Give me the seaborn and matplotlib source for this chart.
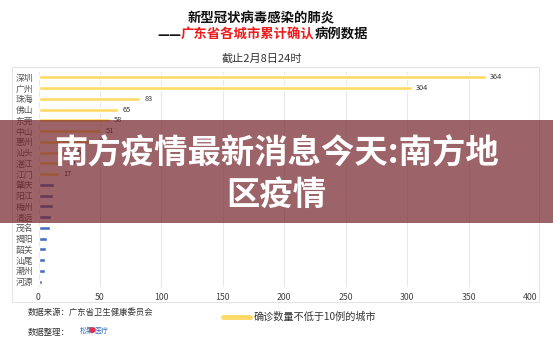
import matplotlib
matplotlib.use("Agg")
import matplotlib.pyplot as plt
from matplotlib.patches import Rectangle
import seaborn as sns
import pandas as pd

cities = ["深圳", "广州", "珠海", "佛山", "东莞", "中山", "惠州", "汕头", "湛江", "江门",
          "肇庆", "阳江", "梅州", "清远", "茂名", "揭阳", "韶关", "汕尾", "潮州", "河源"]
cases = [364, 304, 83, 65, 58, 51, 45, 25, 20, 17,
         13, 12, 12, 10, 9, 7, 6, 5, 5, 3]
groups = ["high"] * 10 + ["low"] * 10
tick_values = [0, 50, 100, 150, 200, 250, 300, 350, 400]

sns.set_theme(style="white")
plt.rcParams['font.family'] = ['Noto Sans CJK SC', 'DejaVu Sans']

W, H = 553, 344
fig = plt.figure(figsize=(W / 100, H / 100), dpi=100)
fig.patch.set_facecolor("white")

def fx(x):
    return x / W

def fy(y):
    return 1 - y / H

# chart frame
fig.patches.append(Rectangle((fx(12), fy(302)), fx(539) - fx(12), fy(67) - fy(302),
                             transform=fig.transFigure, facecolor="none",
                             edgecolor="#e4e4e4", lw=0.8, zorder=-1))

ax = fig.add_axes([fx(38.5), fy(287), fx(530) - fx(38.5), fy(72) - fy(287)])
df = pd.DataFrame({"city": cities, "cases": cases, "group": groups})
palette = {"high": "#FFD966", "low": "#4472C4"}
sns.barplot(data=df, x="cases", y="city", hue="group", palette=palette, orient="h",
            width=0.38, dodge=False, legend=False, ax=ax, saturation=1, zorder=3)

ax.set_xlim(0, 400)
ax.set_xticks(tick_values)
ax.set_xticklabels([str(v) for v in tick_values])
ax.grid(axis="x", color="#e8e8e8", lw=0.8, zorder=0)
ax.set_axisbelow(True)
for s in ax.spines.values():
    s.set_visible(False)
ax.set_xlabel("")
ax.set_ylabel("")
ax.tick_params(axis="x", length=0, pad=4, labelsize=6.3, labelcolor="#444444")
ax.tick_params(axis="y", length=0, pad=4, labelsize=6.3, labelcolor="#555555")
ax.set_facecolor("none")

# value labels for the high group only
hi = ax.containers[0]
ax.bar_label(hi, labels=[str(v) for v in cases[:10]], padding=3, fontsize=5.3,
             color="#333333")

# titles
fig.text(fx(261), fy(18), "新型冠状病毒感染的肺炎", ha="center", va="center",
         fontsize=9.6, fontweight="bold", color="#111111")
t1 = fig.text(fx(157), fy(35), "——", ha="left", va="center", fontsize=9.6,
              fontweight="bold", color="#111111")
t2 = fig.text(0, 0, "广东省各城市累计确认", ha="left", va="center", fontsize=9.6,
              fontweight="bold", color="#ee1c1c")
fig.canvas.draw()
r = fig.canvas.get_renderer()
bb = t1.get_window_extent(r)
t2.set_position((bb.x1 / fig.bbox.width, fy(35)))
bb2 = t2.get_window_extent(r)
fig.text(bb2.x1 / fig.bbox.width, fy(35), "病例数据", ha="left", va="center",
         fontsize=9.6, fontweight="bold", color="#111111")
fig.text(fx(262), fy(59), "截止2月8日24时", ha="center", va="center",
         fontsize=8, color="#333333")

# footer
fig.text(fx(28), fy(313), "数据来源：广东省卫生健康委员会", ha="left", va="center",
         fontsize=6, color="#333333")
fig.text(fx(28), fy(332), "数据整理：", ha="left", va="center",
         fontsize=6, color="#333333")
fig.text(fx(80), fy(331), "松果", ha="left", va="center", fontsize=5, color="#3a6fc4")
fig.text(fx(89), fy(331), "●", ha="left", va="center", fontsize=5, color="#e0314b")
fig.text(fx(94), fy(331), "医疗", ha="left", va="center", fontsize=5, color="#3a6fc4")

# legend
fig.lines.append(plt.Line2D([fx(223), fx(250)], [fy(317), fy(317)],
                            transform=fig.transFigure, color="#FFD966", lw=3.5))
fig.text(fx(254), fy(317), "确诊数量不低于10例的城市", ha="left", va="center",
         fontsize=7.3, color="#333333")

# overlay banner
fig.patches.append(Rectangle((0, fy(223)), 1, fy(120) - fy(223),
                             transform=fig.transFigure, facecolor="#732229",
                             alpha=0.7, edgecolor="none", zorder=10))
fig.text(0.5, fy(154), "南方疫情最新消息今天:南方地", ha="center", va="center",
         fontsize=24, fontweight="bold", color="white", zorder=11)
fig.text(0.5, fy(195), "区疫情", ha="center", va="center",
         fontsize=24, fontweight="bold", color="white", zorder=11)

fig.savefig("out.png", dpi=100, facecolor="white")
